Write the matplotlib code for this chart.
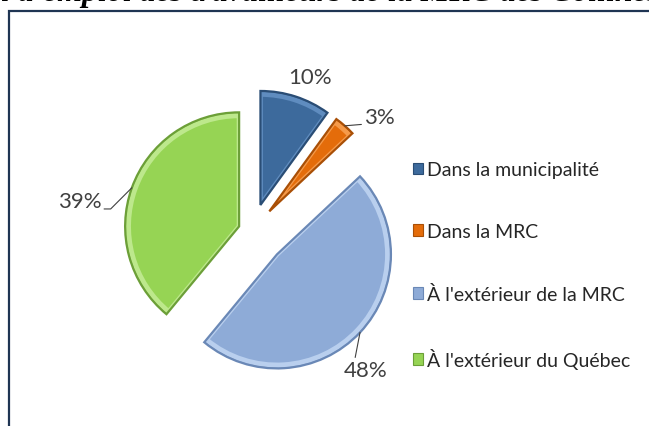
import matplotlib.pyplot as plt
from matplotlib.patches import Rectangle, Patch, Wedge
import numpy as np

categories = ["Dans la municipalité", "Dans la MRC",
              "À l'extérieur de la MRC", "À l'extérieur du Québec"]
shares = [10, 3, 48, 39]
pct_labels = ["10%", "3%", "48%", "39%"]

colors = ['#3d6a9c', '#e46c0a', '#8eabd7', '#96d454']
edges = ['#2a4d75', '#a94f06', '#6a88b6', '#6c9f38']
highlights = ['#5f8cbf', '#f59a4a', '#b9cfee', '#bde88c']
explode = [0.24, 0.23, 0.30, 0.12]

plt.rcParams['font.family'] = ['Lato', 'DejaVu Sans']

fig = plt.figure(figsize=(6.49, 4.27), dpi=100)
W, H = 649, 427

# frame around the chart (right and bottom edges are outside the picture)
fig.patches.append(Rectangle((8.5 / W, -0.1), 1.2, 1.1 - 11.5 / H,
                             transform=fig.transFigure, fill=False,
                             edgecolor='#1f3553', lw=1.6))

# cut title above the frame
title_kw = dict(va='baseline', family='Liberation Serif', style='italic',
                weight='bold', fontsize=23)
fig.text(10 / W, 1 - 1 / H, "Lieu", ha='right', **title_kw)
fig.text(18 / W, 1 - 1 / H,
         "d'emploi des travailleurs de la MRC des Collines-de-l'Outaouais",
         ha='left', **title_kw)

# pie axes: centre at (252, 232) px, radius 114 px
r_px = 114
lim = 1.6
cx, cy = 252, H - 232
ax = fig.add_axes([(cx - lim * r_px) / W, (cy - lim * r_px) / H,
                   2 * lim * r_px / W, 2 * lim * r_px / H])
wedges, _ = ax.pie(shares, colors=colors, explode=explode, startangle=90,
                   counterclock=False, radius=1,
                   wedgeprops=dict(linewidth=0))
# bevel look: light band inside each slice edge, dark rim outside
for w, ec, hc in zip(wedges, edges, highlights):
    band = Wedge(w.center, w.r * 0.97, w.theta1, w.theta2, fill=False,
                 edgecolor=hc, lw=3.5)
    ax.add_patch(band)
    band.set_clip_path(w)
    rim = Wedge(w.center, w.r, w.theta1, w.theta2, fill=False,
                edgecolor=ec, lw=1.6)
    ax.add_patch(rim)
ax.set_xlim(-lim, lim)
ax.set_ylim(-lim, lim)
ax.set_aspect('equal')
ax.axis('off')

# label placement: (offset in points, ha, va, leader?, relpos, connection)
label_style = [
    ((10, 7), 'center', 'bottom', False, None, None),
    ((14, -1), 'left', 'bottom', True, (0, 0.15), 'arc3'),
    ((4, -20), 'center', 'top', True, (0.25, 1), 'arc3'),
    ((-22, -17), 'right', 'bottom', True, (1, 0.12), 'angle,angleA=0,angleB=45,rad=0'),
]
for w, lab, st in zip(wedges, pct_labels, label_style):
    mid = np.deg2rad((w.theta1 + w.theta2) / 2)
    x0, y0 = w.center
    xy = (x0 + w.r * np.cos(mid), y0 + w.r * np.sin(mid))
    off, ha, va, leader, relpos, conn = st
    arrow = None
    if leader:
        arrow = dict(arrowstyle='-', color='#404040', lw=0.8, shrinkA=0,
                     shrinkB=0, relpos=relpos, connectionstyle=conn)
    ax.annotate(lab, xy=xy, xytext=off, textcoords='offset points',
                ha=ha, va=va, fontsize=16, color='#404040', arrowprops=arrow)

handles = [Patch(facecolor=c, edgecolor=e, lw=0.8) for c, e in zip(colors, edges)]
fig.legend(handles, categories, loc='upper left',
           bbox_to_anchor=(395 / W, 1 - 145 / H), frameon=False,
           fontsize=14, handlelength=0.55, handleheight=0.55,
           handletextpad=0.2, labelspacing=2.3, labelcolor='#262626')

fig.savefig('out.png', dpi=100)
